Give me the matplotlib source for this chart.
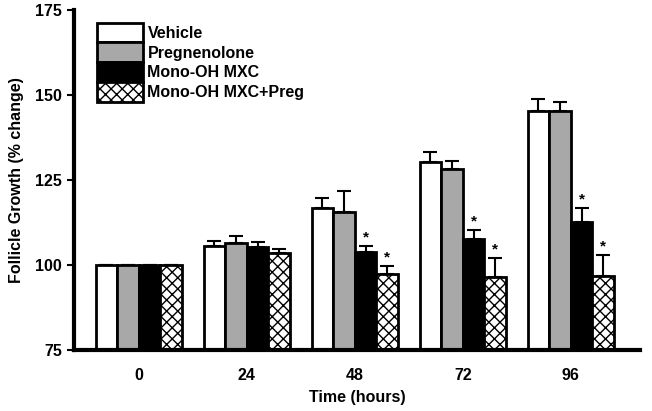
import numpy as np
import matplotlib.pyplot as plt

# ================= DADOS =================
tempos = ["0", "24", "48", "72", "96"]
grupos = ["Vehicle", "Pregnenolone", "Mono-OH MXC", "Mono-OH MXC+Preg"]

vehicle = [100, 105.6, 116.8, 130.3, 145.3]
vehicle_err = [0, 1.4, 3.0, 2.9, 3.5]
preg = [100, 106.5, 115.6, 128.2, 145.3]
preg_err = [0, 2.0, 6.2, 2.4, 2.6]
mxc = [100, 105.3, 103.8, 107.6, 112.6]
mxc_err = [0, 1.5, 1.8, 2.7, 4.2]
mxc_preg = [100, 103.5, 97.4, 96.5, 96.8]
mxc_preg_err = [0, 1.2, 2.3, 5.5, 6.2]

# asteriscos (significativo) para as duas ultimas series
signif_mxc = [False, False, True, True, True]
signif_mxc_preg = [False, False, True, True, True]

# ================= FIGURA =================
plt.rcParams['font.family'] = ['Liberation Sans', 'DejaVu Sans']
plt.rcParams['font.weight'] = 'bold'
plt.rcParams['hatch.linewidth'] = 1.0

fig = plt.figure(figsize=(6.52, 4.11), dpi=100)
ax = fig.add_axes([0.1135, 0.148, 0.868, 0.828])

x = np.arange(len(tempos))
w = 0.2
fs = 11.5
series = [
    (vehicle, vehicle_err, "white", None, None),
    (preg, preg_err, "#a8a8a8", None, None),
    (mxc, mxc_err, "black", None, signif_mxc),
    (mxc_preg, mxc_preg_err, "white", "xxx", signif_mxc_preg),
]

base = 75
for i, (vals, errs, cor, hatch, sig) in enumerate(series):
    pos = x + (i - 1.5) * w
    alturas = np.array(vals) - base
    ax.bar(pos, alturas, w, bottom=base, color=cor, edgecolor="black",
           linewidth=2, hatch=hatch, label=grupos[i], zorder=2)
    ax.errorbar(pos, vals, yerr=[np.zeros(len(errs)), errs], fmt="none",
                ecolor="black", elinewidth=1.5, capsize=5, capthick=1.5, zorder=1)
    if sig:
        for p, v, e, s in zip(pos, vals, errs, sig):
            if s:
                ax.text(p, v + e + 0.5, "*", ha="center", va="bottom",
                        fontsize=11, fontweight="bold")

ax.set_ylim(75, 175)
ax.set_xlim(-0.6, 4.64)
ax.set_yticks([75, 100, 125, 150, 175])
ax.tick_params(axis="y", direction="out", length=5, width=1.5, labelsize=fs)

ax.set_xticks(x)
ax.set_xticklabels(tempos, fontsize=fs, fontweight="bold")
ax.tick_params(axis="x", length=0, pad=13)

ax.spines["top"].set_visible(False)
ax.spines["right"].set_visible(False)
ax.spines["left"].set_linewidth(3)
ax.spines["bottom"].set_linewidth(3)

ax.set_xlabel("Time (hours)", fontsize=fs, fontweight="bold", labelpad=5)
ax.set_ylabel("Follicle Growth (% change)", fontsize=fs, fontweight="bold", labelpad=8)

ax.legend(loc="upper left", bbox_to_anchor=(0.04, 0.962), frameon=False,
          handlelength=2.88, handleheight=1.52, labelspacing=0, borderpad=0,
          handletextpad=0.3, borderaxespad=0, prop={"weight": "bold", "size": fs})

plt.savefig("out.png", dpi=100)
